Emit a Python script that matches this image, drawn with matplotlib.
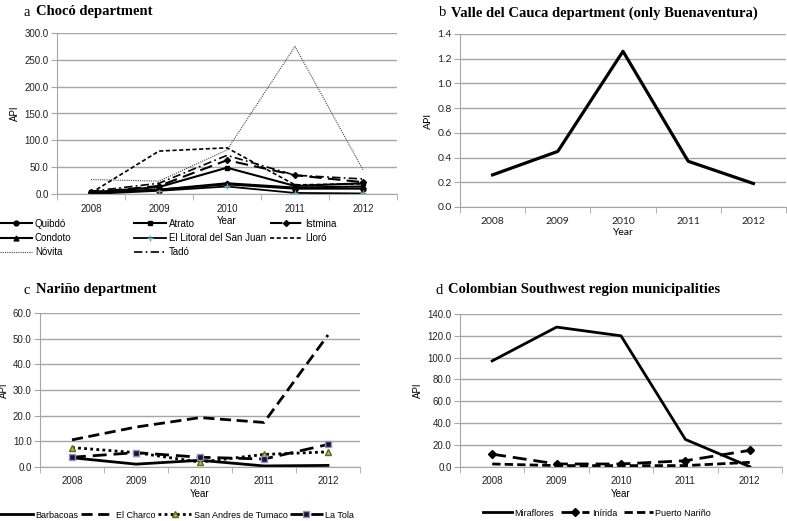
import numpy as np
import matplotlib
matplotlib.use('Agg')
import matplotlib.pyplot as plt

plt.rcParams['font.family'] = ['Liberation Sans', 'DejaVu Sans']

years = [2008, 2009, 2010, 2011, 2012]

# a - Chocó
quibdo = [2, 8, 18, 10, 10]
atrato = [3, 13, 49, 15, 20]
istmina = [3, 15, 63, 35, 22]
condoto = [2, 8, 20, 12, 14]
litoral = [0, 6, 14, 2, 1]
lloro = [2, 80, 86, 17, 19]
novita = [27, 24, 82, 275, 45]
tado = [5, 20, 72, 35, 28]

# b - Buenaventura
buenaventura = [0.26, 0.45, 1.26, 0.37, 0.19]

# c - Nariño
barbacoas = [3.5, 1.0, 2.5, 0.3, 0.5]
el_charco = [10.5, 15.5, 19.2, 17.3, 51.5]
tumaco = [7.5, 5.5, 1.8, 4.8, 5.8]
la_tola = [3.7, 5.5, 3.7, 3.0, 8.7]

# d - Southwest
miraflores = [97, 128, 120, 25, 0]
inirida = [11.5, 2.5, 2.5, 5.5, 15]
puerto_narino = [2.5, 1.0, 1.0, 1.0, 4.0]

W, H = 787, 521
fig = plt.figure(figsize=(W / 100, H / 100), dpi=100)
grid_c = '#a6a6a6'


def px(x, y):
    # pixel (from top-left) -> figure fraction
    return x / W, 1 - y / H


def style_axes(ax, ymax, step, fmt, tickfont=None, fs=7):
    x = np.arange(len(years))
    ax.set_xlim(-0.5, len(years) - 0.5)
    ax.set_ylim(0, ymax)
    yt = np.arange(0, ymax + step / 2, step)
    ax.set_yticks(yt)
    ax.set_yticklabels([fmt.format(v) for v in yt])
    ax.set_xticks(x)
    ax.set_xticklabels([str(y) for y in years])
    ax.set_xticks(np.arange(-0.5, len(years)), minor=True)
    ax.tick_params(axis='x', which='major', length=0, pad=7)
    ax.tick_params(axis='x', which='minor', length=4, color=grid_c, direction='out')
    ax.tick_params(axis='y', length=4, color=grid_c, direction='out', pad=2)
    ax.yaxis.grid(True, color=grid_c, lw=1)
    ax.set_axisbelow(True)
    for s in ['top', 'right']:
        ax.spines[s].set_visible(False)
    ax.spines['left'].set_color(grid_c)
    ax.spines['bottom'].set_color(grid_c)
    for lab in ax.get_xticklabels() + ax.get_yticklabels():
        lab.set_fontsize(fs)
        lab.set_color('#222222')
        if tickfont:
            lab.set_family(tickfont)
    ax.set_xlabel('Year', fontsize=fs, labelpad=2, family=tickfont)
    ax.set_ylabel('API', fontsize=fs, labelpad=3, family=tickfont)
    return x


def panel_title(xp, yp, letter, text, size=10.5):
    x0, y0 = px(xp, yp)
    fig.text(x0, y0, letter, family='Liberation Serif', fontsize=size, va='center')
    fig.text(x0 + 12 / W, y0, text, family='Liberation Serif', fontsize=size,
             fontweight='bold', va='center')


def add_legend(handles, xp, yp, fs=7, hl=3.3, ncol=1, cs=1.0):
    fig.legend(handles=handles, loc='center left', bbox_to_anchor=px(xp, yp),
               ncol=ncol, frameon=False, fontsize=fs, handlelength=hl,
               handletextpad=0.3, columnspacing=cs, labelspacing=0.45,
               borderaxespad=0, borderpad=0)

# ---- a
ax_a = fig.add_axes([57 / W, 1 - 194 / H, 340 / W, 161 / H])
x = style_axes(ax_a, 300, 50, '{:.1f}')
h_quibdo, = ax_a.plot(x, quibdo, 'k-', lw=1.5, marker='o', ms=3.5, label='Quibdó')
h_condoto, = ax_a.plot(x, condoto, 'k-', lw=1.5, marker='^', ms=3.5, label='Condoto')
h_novita, = ax_a.plot(x, novita, color='#444444', ls=(0, (1, 1)), lw=0.8, label='Nóvita')
h_atrato, = ax_a.plot(x, atrato, 'k-', lw=1.5, marker='s', ms=3.5, label='Atrato')
h_litoral, = ax_a.plot(x, litoral, 'k-', lw=1.3, marker='+', ms=4, mec='#5fa8c0',
                       label='El Litoral del San Juan')
h_tado, = ax_a.plot(x, tado, 'k-', ls=(0, (5, 2, 1, 2)), lw=1.2, label='Tadó')
h_istmina, = ax_a.plot(x, istmina, 'k-', ls=(0, (6, 3)), lw=1.5, marker='D', ms=3,
                       label='Istmina')
h_lloro, = ax_a.plot(x, lloro, 'k-', ls=(0, (2.5, 1.5)), lw=1.2, label='Lloró')
add_legend([h_quibdo, h_condoto, h_novita], 0, 238)
add_legend([h_atrato, h_litoral, h_tado], 134, 238)
add_legend([h_istmina, h_lloro], 270, 231)
panel_title(24, 12, 'a', 'Chocó department')

# ---- b
ax_b = fig.add_axes([460 / W, 1 - 207 / H, 326 / W, 173 / H])
x = style_axes(ax_b, 1.4, 0.2, '{:.1f}', tickfont='Lato', fs=7.5)
ax_b.plot(x, buenaventura, 'k-', lw=2.3)
panel_title(439, 13, 'b', 'Valle del Cauca department (only Buenaventura)')

# ---- c
ax_c = fig.add_axes([40 / W, 1 - 466.7 / H, 320 / W, 153.4 / H])
x = style_axes(ax_c, 60, 10, '{:.1f}')
lc = []
lc.append(ax_c.plot(x, barbacoas, 'k-', lw=2, label='Barbacoas')[0])
lc.append(ax_c.plot(x, el_charco, 'k-', ls=(0, (4, 2)), lw=2, label='El Charco')[0])
lc.append(ax_c.plot(x, tumaco, 'k-', ls=(0, (1, 1.2)), lw=2, marker='^', ms=5,
                    mfc='#a8c832', mec='#5a6a20', label='San Andres de Tumaco')[0])
lc.append(ax_c.plot(x, la_tola, 'k-', ls=(0, (5, 2.5)), lw=2, marker='s', ms=5,
                    mfc='#1a1030', mec='#9a90c8', label='La Tola')[0])
add_legend(lc, 0, 515, fs=6.5, hl=3.6, ncol=4, cs=0.3)
panel_title(24, 290, 'c', 'Nariño department')

# ---- d
ax_d = fig.add_axes([460 / W, 1 - 466.7 / H, 322 / W, 152.7 / H])
x = style_axes(ax_d, 140, 20, '{:.1f}')
ld = []
ld.append(ax_d.plot(x, miraflores, 'k-', lw=2, label='Miraflores')[0])
ld.append(ax_d.plot(x, inirida, 'k-', ls=(0, (5, 2.5)), lw=2, marker='D', ms=4,
                    label='Inírida')[0])
ld.append(ax_d.plot(x, puerto_narino, 'k-', ls=(0, (3, 1.5)), lw=2,
                    label='Puerto Nariño')[0])
add_legend(ld, 483, 513, fs=6.5, hl=3.2, ncol=3, cs=0.7)
panel_title(436, 290, 'd', 'Colombian Southwest region municipalities')

fig.savefig('out.png', dpi=100)
